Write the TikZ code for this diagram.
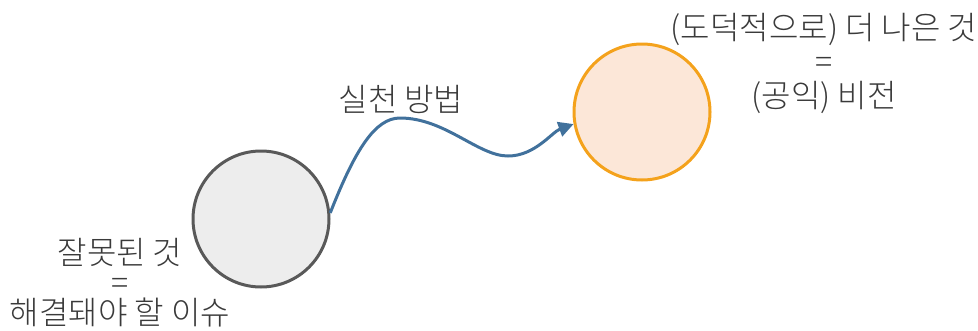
\documentclass[tikz,border=0pt]{standalone}
\usepackage{fontspec}
\newfontfamily\krfont{Noto Sans CJK KR}[UprightFont={* Light}]
\definecolor{mygray}{HTML}{595959}
\definecolor{mylightgray}{HTML}{EDEDED}
\definecolor{myorange}{HTML}{F4A21C}
\definecolor{mypeach}{HTML}{FCE7D8}
\definecolor{myblue}{HTML}{41719C}
\definecolor{mytext}{HTML}{3A3A3A}
\usetikzlibrary{arrows.meta, positioning}
\tikzset{
    circ/.style={
           circle,
           line width=3pt,
           minimum size=136pt,
           inner sep=0pt,
           },
    txt/.style={
           text=mytext,
           align=center,
           font=\krfont\fontsize{32}{30}\selectfont,
           },
}
\newcommand{\Wrong}{잘못된 것\\=\\해결돼야 할 이슈}
\newcommand{\Better}{(도덕적으로) 더 나은 것\\=\\(공익) 비전}
\newcommand{\How}{실천 방법}
\begin{document}
\begin{tikzpicture}[x=1pt, y=-1pt]
      \useasboundingbox (0,0) rectangle (978,330);
      \node[circ, draw=mygray, fill=mylightgray] (W) at (261, 219) {};
      \node[circ, draw=myorange, fill=mypeach]   (B) at (642, 112) {};
      \node[txt] (WT) at (120, 283) {\Wrong};
      \node[txt, font=\krfont\fontsize{32}{34}\selectfont] (BT) at (824, 63) {\Better};
      \node[txt] (HT) at (401, 99)  {\How};
      \draw[myblue, line width=3pt, -{Triangle[length=15pt,width=15pt]}]
          (W.5) .. controls (355,150) and (375,118) .. (400,118)
          .. controls (445,118) and (478,156) .. (508,156)
          .. controls (535,156) and (552,132) .. (B.190);
\end{tikzpicture}
\end{document}
